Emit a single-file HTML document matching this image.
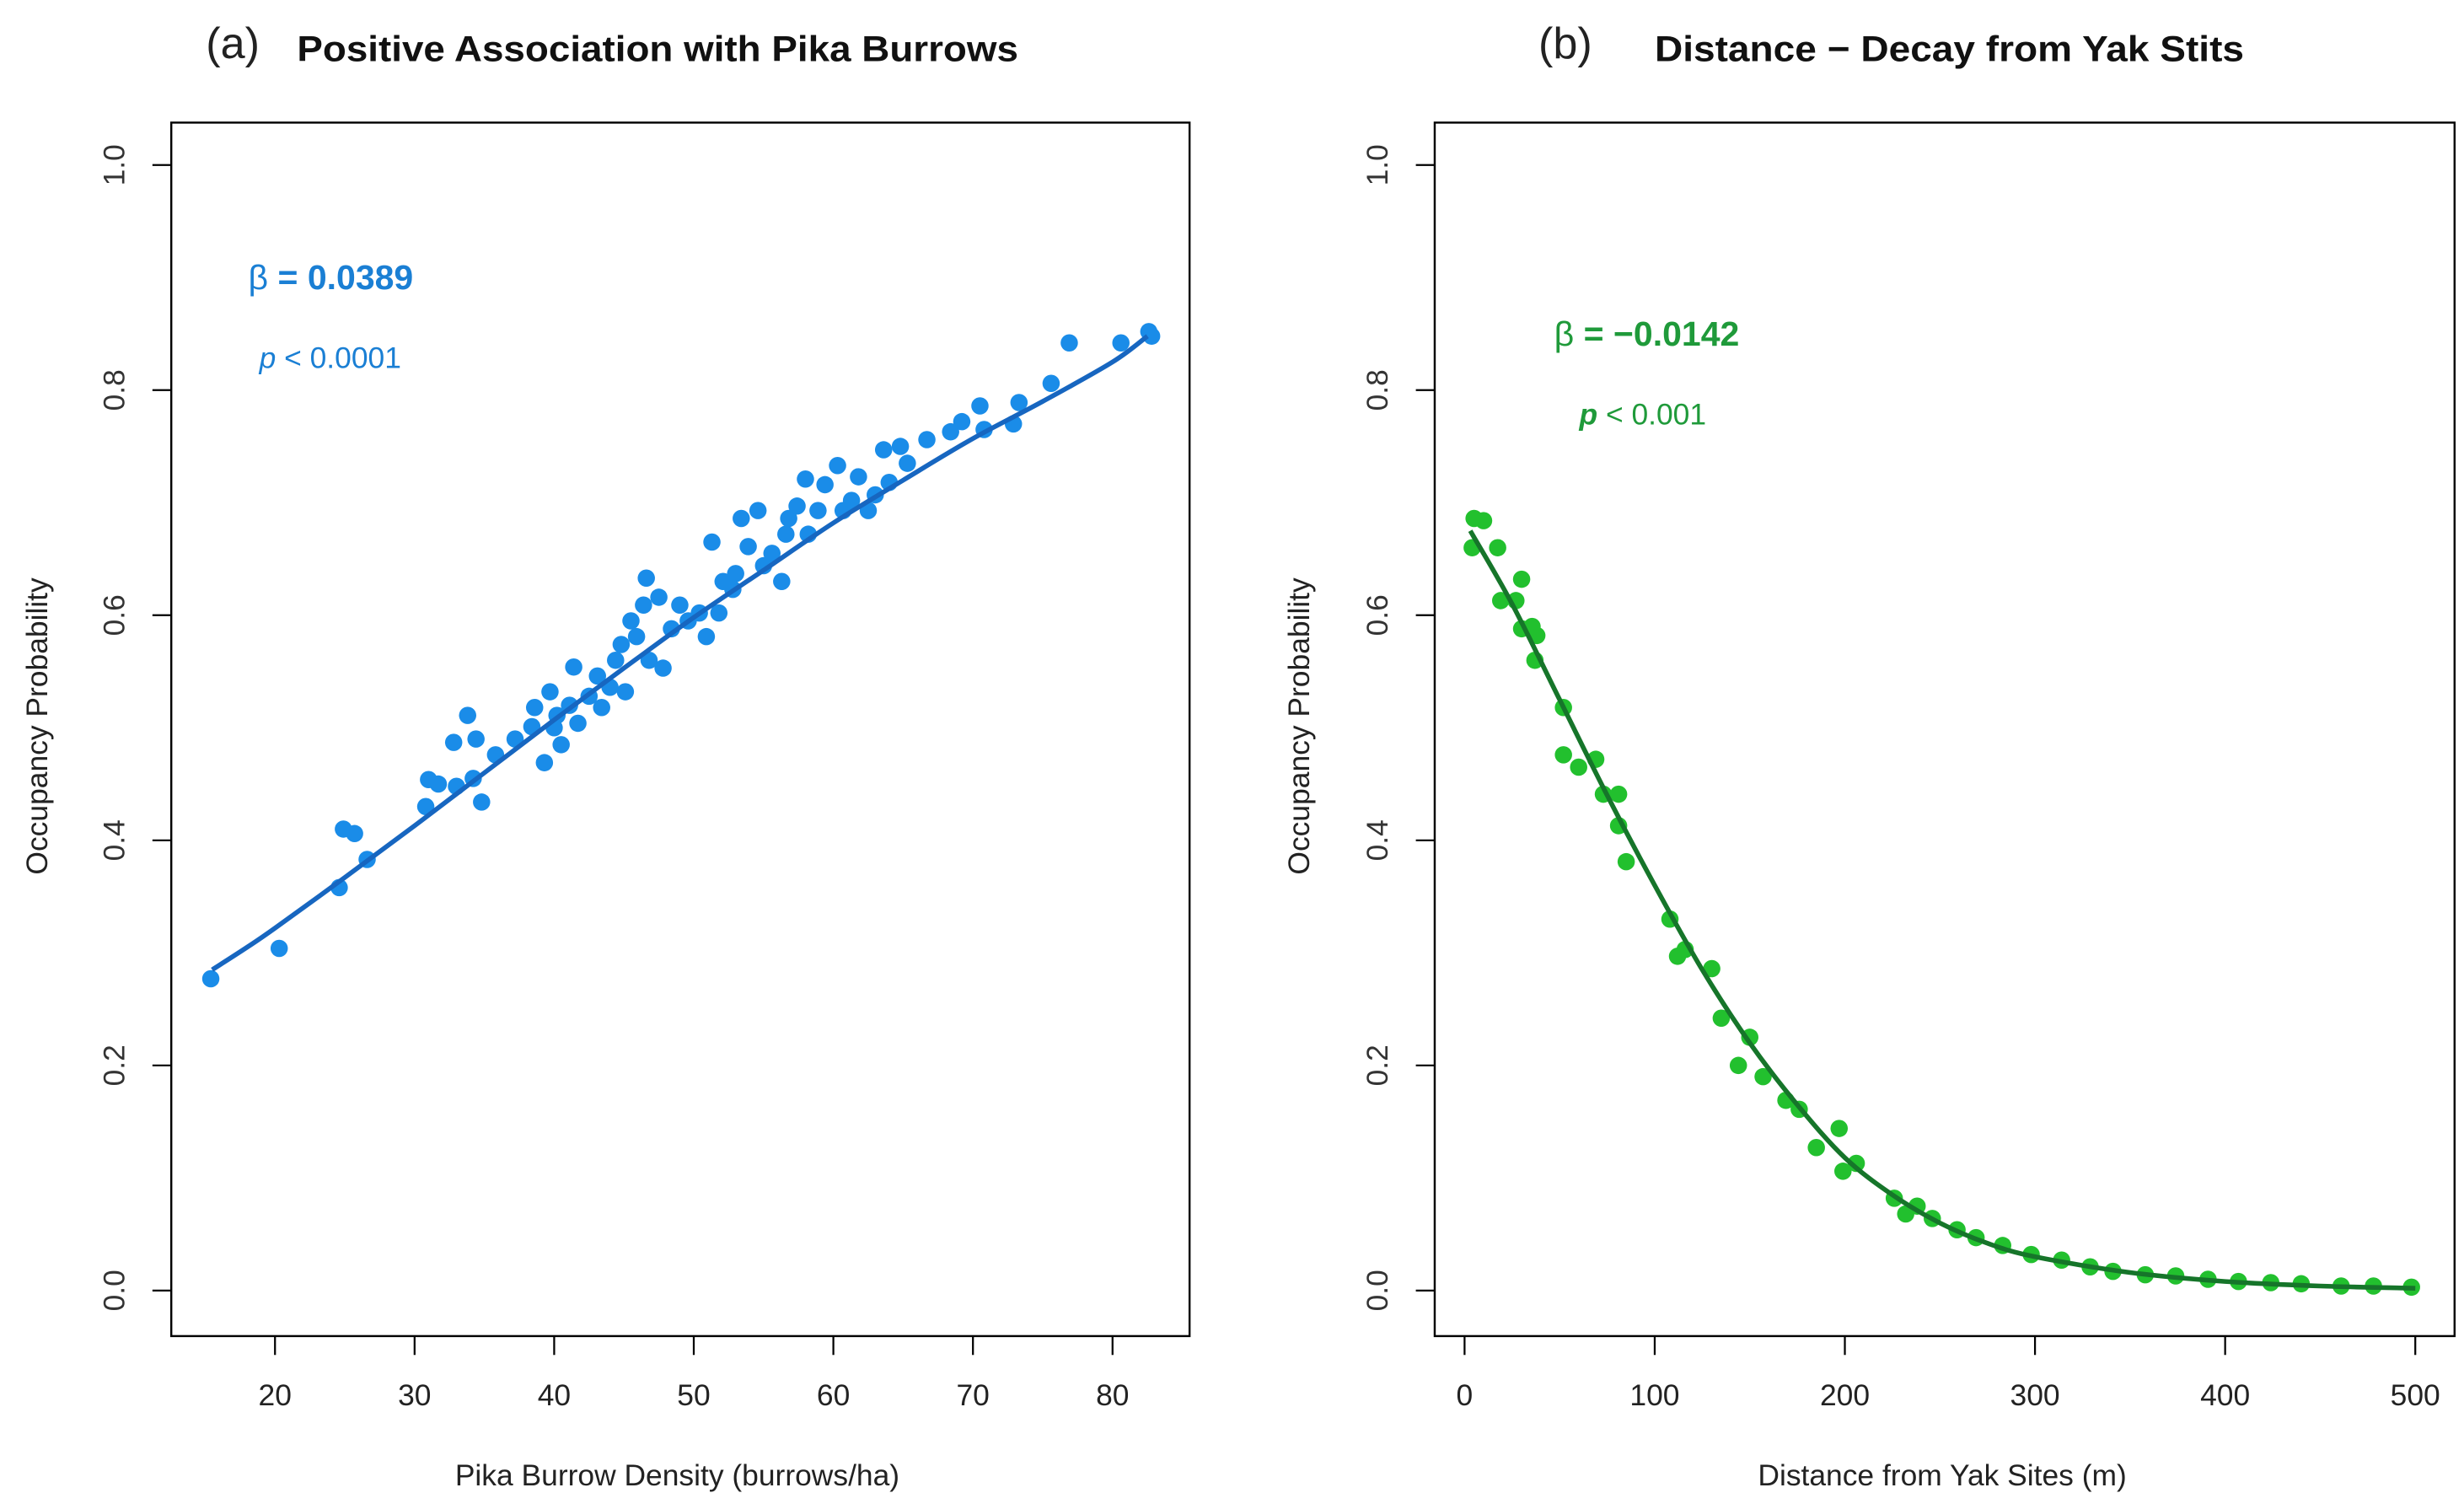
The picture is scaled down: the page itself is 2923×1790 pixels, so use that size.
<!DOCTYPE html>
<html><head><meta charset="utf-8"><style>
html,body{margin:0;padding:0;background:#fff;}
svg{display:block;}
text{font-family:"Liberation Sans",sans-serif;}
</style></head><body>
<svg id="fig" width="2923" height="1790" viewBox="0 0 1568 960" preserveAspectRatio="none" xmlns="http://www.w3.org/2000/svg">
<rect width="1568" height="960" fill="#fff"/>
<g>
<text x="131" y="37" font-family="Liberation Serif,serif" font-size="28" fill="#222">(a)</text>
<text x="189" y="39" font-size="23" font-weight="bold" fill="#111" textLength="459" lengthAdjust="spacingAndGlyphs">Positive Association with Pika Burrows</text>
</g>
<g>
<text x="979" y="37" font-family="Liberation Serif,serif" font-size="28" fill="#222">(b)</text>
<text x="1053" y="39" font-size="23" font-weight="bold" fill="#111" textLength="375" lengthAdjust="spacingAndGlyphs">Distance − Decay from Yak Stits</text>
</g>
<rect x="109" y="78" width="648" height="772" fill="none" stroke="#000" stroke-width="1.3"/>
<rect x="913" y="78" width="649" height="772" fill="none" stroke="#000" stroke-width="1.3"/>
<g id="axA"></g>
<g id="axB"></g>
<g id="marksA"></g>
<g id="marksB"></g>
<text x="431" y="945" font-size="19" text-anchor="middle" fill="#222">Pika Burrow Density (burrows/ha)</text>
<text x="1236" y="945" font-size="19" text-anchor="middle" fill="#222">Distance from Yak Sites (m)</text>
<text transform="translate(30,462) rotate(-90)" font-size="19" text-anchor="middle" fill="#222">Occupancy Probability</text>
<text transform="translate(833,462) rotate(-90)" font-size="19" text-anchor="middle" fill="#222">Occupancy Probability</text>
<text x="158" y="184" font-size="22" fill="#1a7fd4"><tspan>β</tspan><tspan font-weight="bold"> = 0.0389</tspan></text>
<text x="165" y="234" font-size="19" fill="#1a7fd4"><tspan font-style="italic">p</tspan> &lt; 0.0001</text>
<text x="989" y="220" font-size="22" fill="#1f9a3a"><tspan>β</tspan><tspan font-weight="bold"> = −0.0142</tspan></text>
<text x="1005" y="270" font-size="19" fill="#1f9a3a"><tspan font-style="italic" font-weight="bold">p</tspan> &lt; 0.001</text>
</svg>
<script>
const yTicks = [0, 0.2, 0.4, 0.6, 0.8, 1.0];
const yTickLabels = ["0.0", "0.2", "0.4", "0.6", "0.8", "1.0"];
const xTicksA = [20, 30, 40, 50, 60, 70, 80];
const xTicksB = [0, 100, 200, 300, 400, 500];
const densityX = [15.4,20.3,24.6,24.9,25.7,26.6,30.8,31,31.7,32.8,33,33.8,34.4,34.2,34.8,35.8,37.2,38.4,39.3,39.7,40.2,40,40.5,41.1,41.4,41.7,42.5,43.1,43.4,44,44.4,44.8,45.1,45.5,45.9,46.4,46.6,46.8,47.8,48.4,49,49.6,50.4,50.9,51.3,51.8,52.1,52.8,53.4,53.9,54.6,55,55.6,56.3,56.8,57.4,58,58.2,58.9,59.4,60.3,60.7,61.8,62.5,63,63.6,64,64.8,65.3,66.7,68.4,69.2,70.5,70.8,72.9,73.3,75.6,76.9,80.6,82.6,82.8,38.6,47.5,53,56.6,61.3];
const occupancyA = [.277,.304,.358,.41,.406,.383,.43,.454,.45,.487,.448,.511,.49,.455,.434,.476,.49,.501,.469,.532,.511,.5,.485,.52,.554,.504,.528,.546,.518,.536,.56,.574,.532,.595,.581,.609,.633,.56,.553,.588,.609,.595,.602,.581,.665,.602,.63,.623,.686,.661,.693,.644,.655,.63,.686,.697,.721,.672,.693,.716,.733,.693,.723,.693,.707,.747,.718,.75,.735,.756,.763,.772,.786,.765,.77,.789,.806,.842,.842,.852,.848,.518,.616,.637,.672,.702];
const fitXA = [15.5,18,20,25,30,35,40,45,50,55,60,65,70,75,80,82.5];
const fitYA = [.285,.305,.322,.367,.413,.46,.507,.553,.598,.64,.682,.72,.757,.79,.825,.848];
const distanceX = [4,5,10,17.4,19,27,30,30,35.5,37,38,52,52,60,69,73,81,81,85,108,112,116,130,135,144,150,157,169,176,185,197,199,206,226,232,238,246,259,269,283,298,314,329,341,358,374,391,407,424,440,461,478,498];
const occupancyB = [.66,.686,.684,.66,.613,.613,.632,.588,.59,.56,.582,.518,.476,.465,.472,.441,.441,.413,.381,.33,.297,.303,.286,.242,.2,.225,.19,.169,.161,.127,.144,.106,.113,.082,.068,.075,.064,.054,.047,.04,.032,.027,.021,.017,.014,.013,.01,.008,.007,.006,.004,.004,.003];
const fitXB = [3,25,50,75,100,125,150,175,200,225,250,275,300,350,400,450,500];
const fitYB = [.675,.61,.525,.44,.36,.285,.22,.165,.118,.085,.06,.042,.03,.016,.008,.004,.002];

const NS = "http://www.w3.org/2000/svg";
const yScale = v => 821 - v * 716;
const xScaleA = v => 175 + (v - 20) * 8.883;
const xScaleB = v => 932 + v * 1.21;

function el(tag, attrs, parent) {
  const e = document.createElementNS(NS, tag);
  for (const k in attrs) e.setAttribute(k, attrs[k]);
  parent.appendChild(e);
  return e;
}
function axes(g, xTicks, xs, left, bottom) {
  yTicks.forEach((t, i) => {
    const y = yScale(t);
    const tk = el("line", {x1: left, x2: left - 12, y1: y, y2: y, stroke: "#000", "stroke-width": 1.2}, g);
    
    
    const lb = el("text", {transform: `translate(${left - 30},${y}) rotate(-90)`, "font-size": 19, "text-anchor": "middle", fill: "#333"}, g);
    lb.textContent = yTickLabels[i];
    
    
  });
  xTicks.forEach(t => {
    const x = xs(t);
    const tk = el("line", {x1: x, x2: x, y1: bottom, y2: bottom + 12, stroke: "#000", "stroke-width": 1.2}, g);
    
    
    const lb = el("text", {x: x, y: bottom + 44, "font-size": 19, "text-anchor": "middle", fill: "#222"}, g);
    lb.textContent = String(t);
    
    
  });
}
axes(document.getElementById("axA"), xTicksA, xScaleA, 109, 850);
axes(document.getElementById("axB"), xTicksB, xScaleB, 913, 850);

function series(g, xs, X, Y, FX, FY, dotColor, lineColor) {
  X.forEach((x, i) => {
    const c = el("circle", {cx: xs(x), cy: yScale(Y[i]), r: 5.5, fill: dotColor}, g);
    
    
  });
  const pts = FX.map((x, i) => [xs(x), yScale(FY[i])]);
  let d = `M${pts[0][0]},${pts[0][1]}`;
  for (let i = 0; i < pts.length - 1; i++) {
    const p0 = pts[i - 1] || pts[i], p1 = pts[i], p2 = pts[i + 1], p3 = pts[i + 2] || p2;
    d += ` C${p1[0] + (p2[0] - p0[0]) / 6},${p1[1] + (p2[1] - p0[1]) / 6} ${p2[0] - (p3[0] - p1[0]) / 6},${p2[1] - (p3[1] - p1[1]) / 6} ${p2[0]},${p2[1]}`;
  }
  const ln = el("path", {d: d, fill: "none", stroke: lineColor, "stroke-width": 3}, g);
  
  
}
series(document.getElementById("marksA"), xScaleA, densityX, occupancyA, fitXA, fitYA, "#1a8ce8", "#1766c0");
series(document.getElementById("marksB"), xScaleB, distanceX, occupancyB, fitXB, fitYB, "#22c02e", "#16752a");
</script>
</body></html>
